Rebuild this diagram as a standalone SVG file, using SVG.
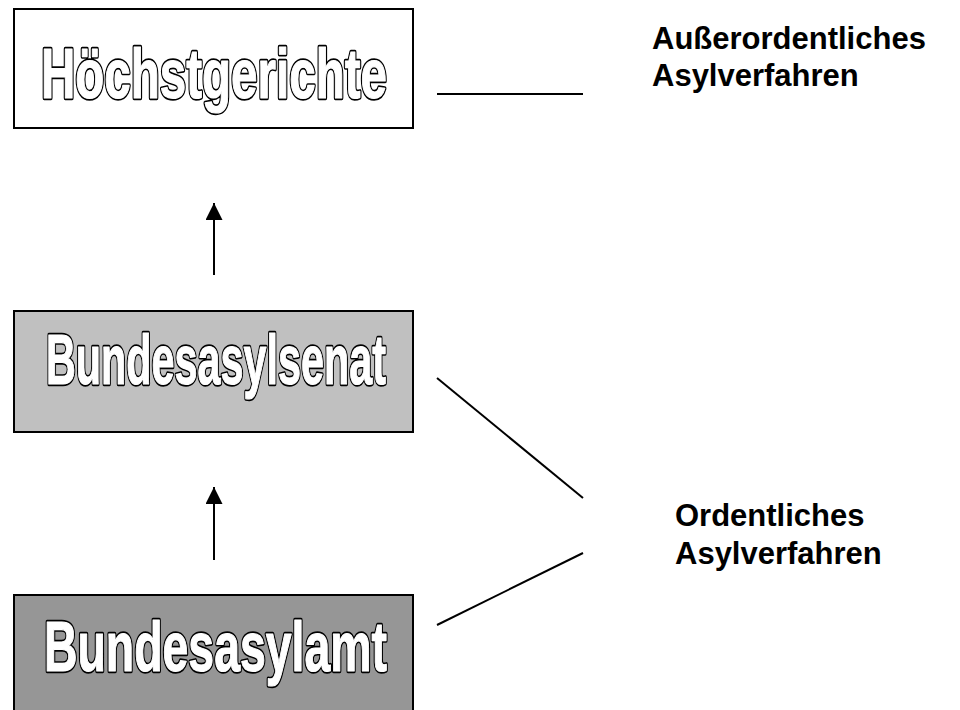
<svg xmlns="http://www.w3.org/2000/svg" width="960" height="710" viewBox="0 0 960 710">
<style>
.box{stroke:#000;stroke-width:2}
.title{font-family:"Liberation Sans",Arial,sans-serif;font-weight:bold;font-size:70px;stroke-linejoin:round;text-anchor:start}
.outer{fill:#000;stroke:#000;stroke-width:4.5}
.inner{fill:#fff;stroke:#fff;stroke-width:1.2}
.label{font-family:"Liberation Sans",Arial,sans-serif;font-weight:bold;font-size:31px;fill:#000}
.conn{stroke:#000;stroke-width:2;fill:none}
</style>
<defs>
<marker id="ah" markerWidth="17" markerHeight="17" viewBox="0 0 17 17" refX="17" refY="8.5" orient="auto" markerUnits="userSpaceOnUse">
<path d="M0,0 L17,8.5 L0,17 Z" fill="#000"/>
</marker>
</defs>
<rect width="960" height="710" fill="#fff"/>
<g id="hoechstgerichte">
<rect class="box" x="14" y="9" width="399" height="119" fill="#fff"/>
<text class="title outer" x="41" y="98" textLength="346" lengthAdjust="spacingAndGlyphs">Höchstgerichte</text>
<text class="title inner" x="41" y="98" textLength="346" lengthAdjust="spacingAndGlyphs">Höchstgerichte</text>
</g>
<g id="bundesasylsenat">
<rect class="box" x="14" y="311" width="399" height="121" fill="#c0c0c0"/>
<text class="title outer" x="46" y="384" font-size="72" textLength="340" lengthAdjust="spacingAndGlyphs">Bundesasylsenat</text>
<text class="title inner" x="46" y="384" font-size="72" textLength="340" lengthAdjust="spacingAndGlyphs">Bundesasylsenat</text>
</g>
<g id="bundesasylamt">
<rect class="box" x="14" y="595" width="399" height="130" fill="#969696"/>
<text class="title outer" x="44" y="671" font-size="72" textLength="343" lengthAdjust="spacingAndGlyphs">Bundesasylamt</text>
<text class="title inner" x="44" y="671" font-size="72" textLength="343" lengthAdjust="spacingAndGlyphs">Bundesasylamt</text>
</g>
<g id="ausserordentlich">
<text class="label" x="652" y="49">Außerordentliches</text>
<text class="label" x="652" y="86">Asylverfahren</text>
</g>
<g id="ordentlich">
<text class="label" x="675" y="526">Ordentliches</text>
<text class="label" x="675" y="564">Asylverfahren</text>
</g>
<g id="connectors">
<line class="conn" x1="214" y1="275" x2="214" y2="203" marker-end="url(#ah)"/>
<line class="conn" x1="214" y1="560" x2="214" y2="487" marker-end="url(#ah)"/>
<line class="conn" x1="437" y1="94" x2="583" y2="94"/>
<line class="conn" x1="437" y1="378" x2="583" y2="498"/>
<line class="conn" x1="437" y1="625" x2="583" y2="553"/>
</g>
</svg>
